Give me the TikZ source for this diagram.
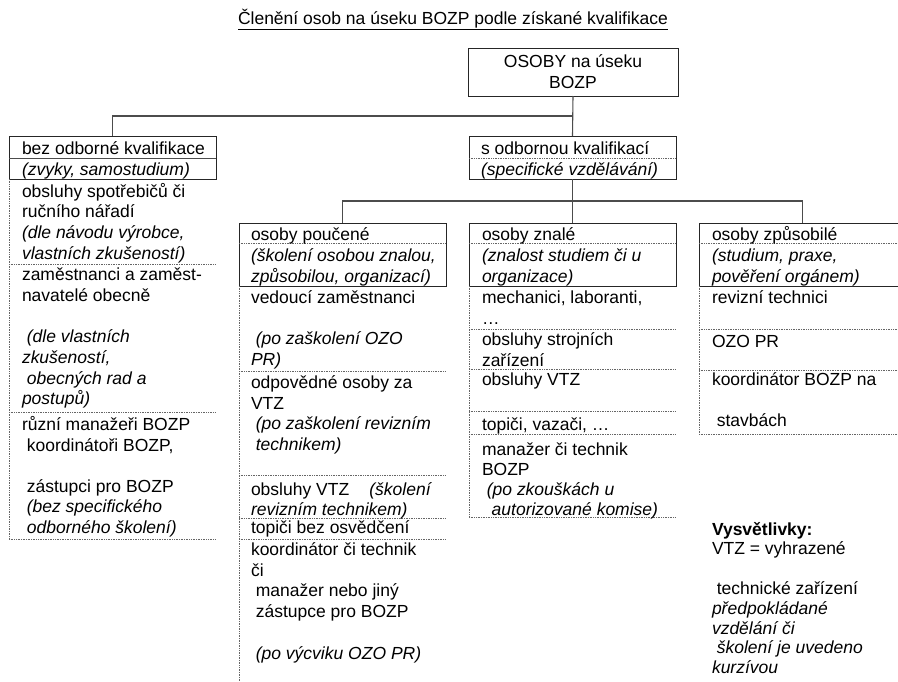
\documentclass[tikz,border=0pt]{standalone}
\usepackage{fontspec}
\setmainfont{Liberation Sans}
\tikzset{
  txt/.style={anchor=base west, inner sep=0pt, outer sep=0pt, font=\fontsize{17.5}{20.7}\selectfont},
  ctxt/.style={txt, anchor=base},
  hbox/.style={draw=black!85, line width=0.9pt, anchor=north west, inner sep=0pt, outer sep=0pt, minimum width=207pt},
  dots/.style={draw=black!60, line width=0.7pt, dash pattern=on 0.8pt off 0.9pt},
  sep/.style={draw=black!70, line width=0.6pt},
  conn/.style={draw=black!70, line width=1.1pt},
}
\newcommand\celltxt[5]{%
  \foreach \ctext [count=\ci] in {#5}{\node[txt] (#1-\ci) at (#2,{#3+(\ci-1)*#4}) {\ctext};}}
\begin{document}
\begin{tikzpicture}[x=1pt,y=-1pt]
\useasboundingbox (0,0) rectangle (898,681);
\fill[white] (0,0) rectangle (898,681);
\clip (0,0) rectangle (898,681);

% title
\node[ctxt] (title) at (453,24) {\underline{Členění osob na úseku BOZP podle získané kvalifikace}};

% root
\node[hbox, minimum width=210pt, minimum height=48pt] (root) at (468,48) {};
\node[ctxt] (root-1) at (573,67) {OSOBY na úseku};
\node[ctxt] (root-2) at (573,88) {BOZP};

% level 1 headers
\node[hbox, minimum height=43pt] (bez) at (9,136) {};
\draw[sep] (9,158) -- (216,158);
\node[hbox, minimum height=43pt] (sodb) at (469,136) {};
\draw[dots] (469,158) -- (676,158);
\celltxt{bezh}{22}{154.5}{20.8}{bez odborné kvalifikace,{\textit{(zvyky, samostudium)}}}
\celltxt{sodbh}{481}{154.5}{20.8}{s odbornou kvalifikací,{\textit{(specifické vzdělávání)}}}

% level 2 headers
\node[hbox, minimum height=63pt] (pouc) at (239,223) {};
\node[hbox, minimum height=63pt] (znale) at (469,223) {};
\node[hbox, minimum height=63pt] (zpus) at (699,223) {};
\draw[dots] (239,243) -- (446,243);
\draw[dots] (469,243) -- (676,243);
\draw[dots] (699,243) -- (906,243);
\celltxt{pouch}{251}{240.5}{20.8}{osoby poučené,{\textit{(školení osobou znalou,}},{\textit{způsobilou, organizací)}}}
\celltxt{znaleh}{482}{240.5}{20.8}{osoby znalé,{\textit{(znalost studiem či u}},{\textit{organizace)}}}
\celltxt{zpush}{712}{240.5}{20.8}{osoby způsobilé,{\textit{(studium, praxe,}},{\textit{pověření orgánem)}}}

% connectors
\coordinate (j1) at (573,116);
\coordinate (j2) at (573,201);
\draw[conn] (root.south) -- (sodb.north);
\draw[conn] (bez.north) |- (j1);
\draw[conn] (sodb.south) -- (znale.north);
\draw[conn] (pouc.north) |- (j2);
\draw[conn] (zpus.north) |- (j2);

% left column cells
\draw[dots] (9,179) -- (9,539);
\foreach \yy in {264,412,539} \draw[dots] (9,\yy) -- (216,\yy);
\celltxt{b1}{22}{197}{20.7}{obsluhy spotřebičů či,ručního nářadí,{\textit{(dle návodu výrobce,}},{\textit{vlastních zkušeností)}}}
\celltxt{b2}{22}{280.5}{20.7}{zaměstnanci a zaměst-,navatelé obecně,{},{\ \textit{(dle vlastních}},{\textit{zkušeností,}},{\ \textit{obecných rad a}},{\textit{postupů)}}}
\celltxt{b3}{22}{430.5}{20.5}{různí manažeři BOZP,{\ koordinátoři BOZP,},{},{\ zástupci pro BOZP},{\ \textit{(bez specifického}},{\ \textit{odborného školení)}}}

% osoby poucene cells
\draw[dots] (239,286) -- (239,681);
\foreach \yy in {371,475,518,539} \draw[dots] (239,\yy) -- (446,\yy);
\celltxt{p1}{251}{303.5}{20.7}{vedoucí zaměstnanci,{},{\ \textit{(po zaškolení OZO}},{\textit{PR)}}}
\celltxt{p2}{251}{388.5}{20.5}{odpovědné osoby za,VTZ,{\ \textit{(po zaškolení revizním}},{\ \textit{technikem)}}}
\celltxt{p3}{251}{495.5}{20}{{obsluhy VTZ\hspace{1.15em}\textit{(školení}},{\textit{revizním technikem)}}}
\celltxt{p4}{251}{533.5}{20}{topiči bez osvědčení}
\celltxt{p5}{251}{555.5}{20.7}{koordinátor či technik,či,{\ manažer nebo jiný},{\ zástupce pro BOZP},{},{\ \textit{(po výcviku OZO PR)}}}

% osoby znale cells
\draw[dots] (469,286) -- (469,517);
\foreach \yy in {329,369,411,434,517} \draw[dots] (469,\yy) -- (676,\yy);
\celltxt{z1}{482}{303.5}{20.5}{{mechanici, laboranti,},{…}}
\celltxt{z2}{482}{345.5}{20.5}{obsluhy strojních,zařízení}
\celltxt{z3}{482}{385.5}{20.5}{obsluhy VTZ}
\celltxt{z4}{482}{430.5}{20.5}{{topiči, vazači, …}}
\celltxt{z5}{482}{455.5}{20}{manažer či technik,BOZP,{\ \textit{(po zkouškách u}},{\ \ \textit{autorizované komise)}}}

% osoby zpusobile cells
\draw[dots] (699,286) -- (699,434);
\foreach \yy in {329,370,434} \draw[dots] (699,\yy) -- (906,\yy);
\celltxt{s1}{712}{303.5}{20.5}{revizní technici}
\celltxt{s2}{712}{347.5}{20.5}{OZO PR}
\celltxt{s3}{712}{385.5}{20.7}{koordinátor BOZP na,{},{\ stavbách}}

% legend
\celltxt{leg}{712}{535}{19.8}{{\bfseries Vysvětlivky:},{VTZ = vyhrazené},{},{\ technické zařízení},{\textit{předpokládané}},{\textit{vzdělání či}},{\ \textit{školení je uvedeno}},{\textit{kurzívou}}}
\end{tikzpicture}
\end{document}
